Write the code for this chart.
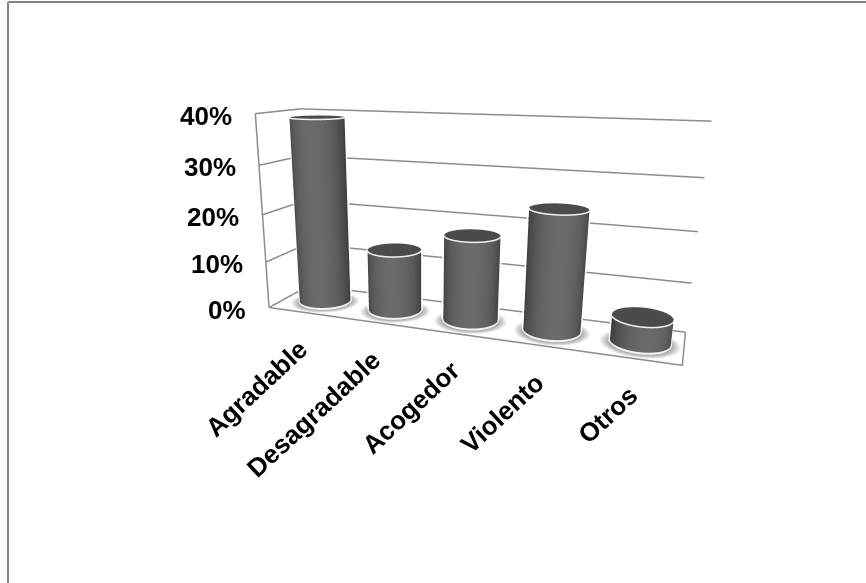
import numpy as np, plotly.graph_objects as go

categories=["Agradable","Desagradable","Acogedor","Violento","Otros"]
values=[39,13,17.5,24,5]
tick_vals=[0,10,20,30,40]
tick_text=["0%","10%","20%","30%","40%"]

EYE=dict(x=2.243,y=-7.131,z=1.630)
CENTER=dict(x=1.560,y=-5.305,z=1.000)
UP=dict(x=-1.147,y=3.038,z=1)
ASPECT=dict(x=4.659,y=0.960,z=2.265)

XMIN,XMAX=-.5,4.5;GRID="#8c8c8c"
RX=.33;RY=RX*(4.622/5)/0.941
FLAT=dict(ambient=1,diffuse=0,specular=0,fresnel=0,roughness=1)
fig=go.Figure()
def line(x,y,z,c=GRID,w=3):
    fig.add_trace(go.Scatter3d(x=x,y=y,z=z,mode="lines",line=dict(color=c,width=w),hoverinfo="skip"))
for z in tick_vals:
    line([XMIN,XMIN,XMAX],[0,1,1],[z]*3)
line([XMIN,XMIN],[0,0],[0,40])
line([XMIN,XMAX,XMAX],[0,0,1],[0,0,0])
th=np.linspace(0,2*np.pi,73)
view=np.arctan2(EYE["y"],EYE["x"])
grey=[[0,"#3c3c3c"],[.5,"#505050"],[1,"#6a6a6a"]]
for i,v in enumerate(values):
    cx=i+.03;cy=.5
    rr=np.linspace(1,1.36,8)
    T,R=np.meshgrid(th,rr)
    fig.add_trace(go.Surface(x=cx+RX*R*np.cos(T),y=cy+RY*R*np.sin(T),z=np.full(T.shape,-.25),surfacecolor=R,
        colorscale=[[0,"#a0a0a0"],[1,"#ffffff"]],showscale=False,hoverinfo="skip",lighting=FLAT))
    T,Z=np.meshgrid(th,np.linspace(0,v,2))
    fig.add_trace(go.Surface(x=cx+RX*np.cos(T),y=cy+RY*np.sin(T),z=Z,surfacecolor=np.cos(T-view),cmin=0,cmax=1,
        colorscale=grey,showscale=False,hoverinfo="skip",lighting=FLAT))
    T,R=np.meshgrid(th,[0,1])
    fig.add_trace(go.Surface(x=cx+RX*R*np.cos(T),y=cy+RY*R*np.sin(T),z=np.full(T.shape,v),surfacecolor=np.zeros(T.shape),cmin=0,cmax=1,
        colorscale=[[0,"#4b4b4b"],[1,"#4b4b4b"]],showscale=False,hoverinfo="skip",lighting=FLAT))
    fr=np.linspace(view-np.pi/2,view+np.pi/2,37)
    line(cx+RX*1.01*np.cos(fr),cy+RY*1.01*np.sin(fr),np.full(37,v),"#f2f2f2",3)
    line(cx+RX*1.02*np.cos(fr),cy+RY*1.02*np.sin(fr),np.full(37,0.05),"#f2f2f2",3)
    for s in (-1,1):
        a=view+s*np.pi/2
        line([cx+RX*1.04*np.cos(a)]*2,[cy+RY*1.04*np.sin(a)]*2,[0,v],"#ffffff",3)

ann=[]
FONT=dict(family="Liberation Sans",size=26,color="#000")
for z,t in zip(tick_vals,tick_text):
    ann.append(dict(x=XMIN,y=0,z=z,text="<b>"+t+"</b>",showarrow=False,xanchor="right",xshift=-21,yshift=-2,font=FONT))
for i,c in enumerate(categories):
    ann.append(dict(x=i,y=0,z=0,text="<b>"+c+"</b>",showarrow=False,xanchor="right",yanchor="top",xshift=13,yshift=-19,textangle=-43,font=FONT))
fig.update_layout(width=866,height=583,margin=dict(l=0,r=0,t=0,b=0),showlegend=False,paper_bgcolor="white",
 scene=dict(domain=dict(x=[0,1],y=[0,1]),annotations=ann,
  xaxis=dict(visible=False,range=[XMIN-.02,XMAX+.02]),yaxis=dict(visible=False,range=[-.01,1.01]),zaxis=dict(visible=False,range=[-.4,40.4]),
  aspectmode="manual",aspectratio=ASPECT,
  camera=dict(eye=EYE,center=CENTER,up=UP)),
 shapes=[dict(type="line",xref="paper",yref="paper",x0=8/866,x1=8/866,y0=0,y1=1-2/583,line=dict(color="#868686",width=2)),
         dict(type="line",xref="paper",yref="paper",x0=8/866,x1=1,y0=1-2/583,y1=1-2/583,line=dict(color="#868686",width=2))])
fig.write_html("out.html",post_script="document.body.style.margin='0';",config=dict(displayModeBar=False))
